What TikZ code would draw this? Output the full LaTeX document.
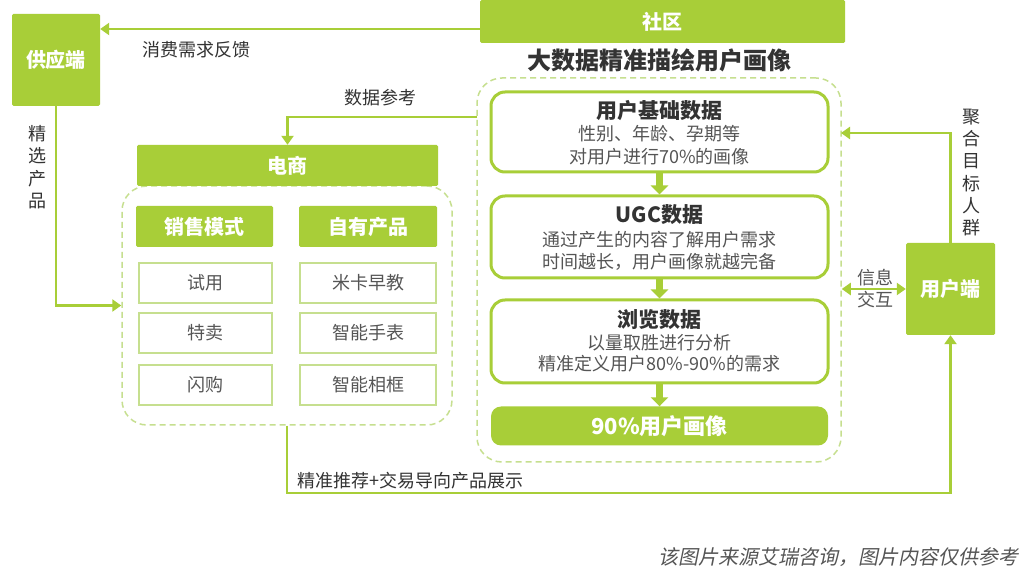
\documentclass[tikz,border=0pt]{standalone}
\usepackage{fontspec}
\setmainfont{Noto Sans CJK SC}
\newfontfamily\itcjk[FakeSlant=0.2]{Noto Sans CJK SC}
\usetikzlibrary{arrows.meta,calc}
\definecolor{grn}{RGB}{168,206,56}
\definecolor{lgrn}{RGB}{198,223,143}
\definecolor{dgray}{RGB}{51,51,51}
\definecolor{mgray}{RGB}{85,85,85}
\newcommand\fsz[2]{\fontsize{#1}{#2}\selectfont}
\begin{document}
\begin{tikzpicture}[x=1pt,y=-1pt,
  gbox/.style={fill=grn, draw=none, text=white, font=\bfseries\fsz{20}{24}, inner sep=0pt, rounded corners=1.5pt},
  wbox/.style={draw=grn, line width=3pt, fill=white, rounded corners=14pt, inner sep=0pt},
  itembox/.style={draw=lgrn, line width=1.5pt, fill=white, text=mgray, font=\fsz{18}{22}, inner sep=0pt},
  dbox/.style={draw=lgrn, line width=1.5pt, dash pattern=on 6pt off 4pt, rounded corners=25pt, inner sep=0pt},
  conn/.style={draw=grn, line width=2.8pt, -{Triangle[length=9pt,width=12pt]}},
  conn2/.style={draw=grn, line width=2.8pt, {Triangle[length=9pt,width=12pt]}-{Triangle[length=9pt,width=12pt]}},
  flow/.style={draw=grn, line width=7pt, -{Triangle[length=9pt,width=17pt]}},
  lbl/.style={text=dgray, font=\fsz{18}{22}, inner sep=0pt},
  ttl/.style={text=dgray, font=\bfseries\fsz{21}{24}, inner sep=0pt},
  sub/.style={text=mgray, font=\fsz{18}{22}, inner sep=0pt}
]
\useasboundingbox[fill=white] (0,0) rectangle (1021,577);

% dashed containers
\node[dbox, minimum width=364pt, minimum height=384pt] (dashR) at (659,270) {};
\node[dbox, minimum width=330pt, minimum height=239pt] (dashL) at (287,305.5) {};

% green boxes
\node[gbox, minimum width=88pt, minimum height=92pt] (supply) at (56,60) {供应端};
\node[gbox, minimum width=365pt, minimum height=43pt] (community) at (662.5,21.5) {社区};
\node[gbox, minimum width=301pt, minimum height=41pt] (ec) at (287.5,165.5) {电商};
\node[gbox, minimum width=137pt, minimum height=41pt] (sales) at (204.5,226.5) {销售模式};
\node[gbox, minimum width=138pt, minimum height=41pt] (own) at (368,226.5) {自有产品};
\node[gbox, minimum width=89pt, minimum height=92pt] (user) at (950.5,289) {用户端};

\node[text=dgray, font=\bfseries\fsz{24}{28}, inner sep=0pt] (bigttl) at (659,60) {大数据精准描绘用户画像};

% items
\node[itembox, minimum width=133pt, minimum height=40pt] (i1) at (205.5,283) {试用};
\node[itembox, minimum width=133pt, minimum height=40pt] (i2) at (205.5,333) {特卖};
\node[itembox, minimum width=133pt, minimum height=40pt] (i3) at (205.5,385) {闪购};
\node[itembox, minimum width=136pt, minimum height=40pt] (j1) at (368,283) {米卡早教};
\node[itembox, minimum width=136pt, minimum height=40pt] (j2) at (368,333) {智能手表};
\node[itembox, minimum width=136pt, minimum height=40pt] (j3) at (368,385) {智能相框};

% right column boxes
\node[wbox, minimum width=337pt, minimum height=80pt] (b1) at (659.5,132) {};
\node[wbox, minimum width=337pt, minimum height=82pt] (b2) at (659.5,237) {};
\node[wbox, minimum width=337pt, minimum height=83pt] (b3) at (659.5,341.5) {};
\node[gbox, rounded corners=10pt, font=\bfseries\fsz{22}{26}, minimum width=337pt, minimum height=39pt] (b4) at (659.5,426) {90\%用户画像};

\node[ttl] (b1t) at (659.5,111) {用户基础数据};
\node[sub] (b1a) at (659.5,134) {性别、年龄、孕期等};
\node[sub] (b1b) at (659.5,157) {对用户进行70\%的画像};
\node[ttl] (b2t) at (659.5,215) {UGC数据};
\node[sub] (b2a) at (659.5,240) {通过产生的内容了解用户需求};
\node[sub] (b2b) at (659.5,262) {时间越长，用户画像就越完备};
\node[ttl] (b3t) at (659.5,320) {浏览数据};
\node[sub] (b3a) at (659.5,343) {以量取胜进行分析};
\node[sub] (b3b) at (659.5,364) {精准定义用户80\%-90\%的需求};

\draw[flow] (b1.south) -- (b2.north);
\draw[flow] (b2.south) -- (b3.north);
\draw[flow] (b3.south) -- (b4.north);

% connectors
\draw[conn] ([yshift=-7.5pt]community.west) -- ([yshift=-7.5pt]community.west -| supply.east);
\node[lbl] (l1) at (196,50) {消费需求反馈};

\coordinate (d1) at (477,117);
\draw[conn] (d1) -| (ec.north);
\node[lbl] (l2) at (380,98) {数据参考};

\draw[conn] (supply.south) |- (dashL.west);
\node[lbl, align=center, font=\fsz{18}{22.5}] (l3) at (37,167) {精\\选\\产\\品};

\coordinate (d3) at (287,493);
\draw[conn] (dashL.south) -- (d3) -| (user.south);
\node[lbl, anchor=west] (l4) at (297,481) {精准推荐+交易导向产品展示};

\coordinate (d4) at (841,133);
\draw[conn] (user.north) |- (d4);
\node[lbl, align=center, font=\fsz{18}{22.2}] (l5) at (971,172.5) {聚\\合\\目\\标\\人\\群};

\draw[conn2] (dashR.east |- user.west) -- (user.west);
\node[lbl, text=mgray] (l6) at (875,278) {信息};
\node[lbl, text=mgray] (l7) at (875,300) {交互};

\node[anchor=east, text=mgray, font=\itcjk\fsz{20}{24}, inner sep=0pt] (foot) at (1019,557) {该图片来源艾瑞咨询，图片内容仅供参考};
\end{tikzpicture}
\end{document}
